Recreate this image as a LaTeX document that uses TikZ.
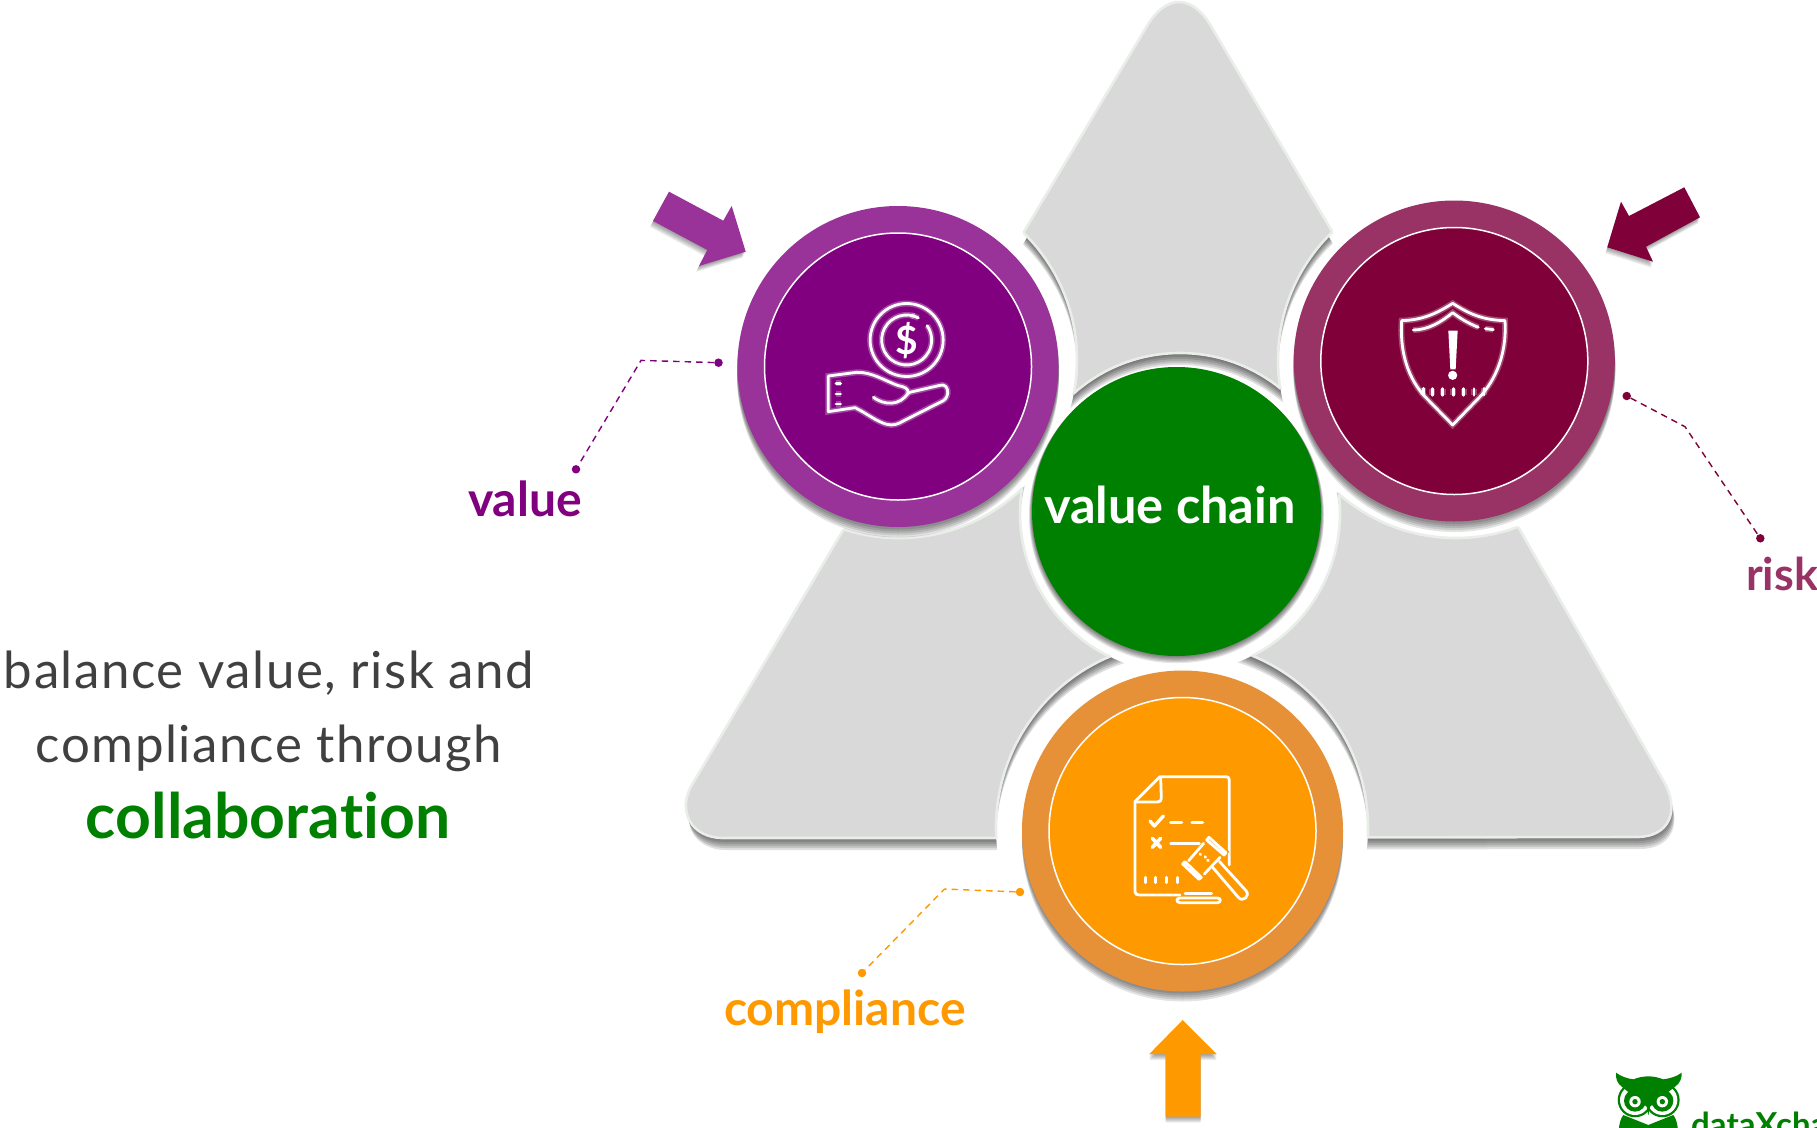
\documentclass[tikz,border=0pt]{standalone}
\usepackage{fontspec}
\setmainfont[Ligatures=NoCommon,LetterSpace=3]{Lato}
\newfontfamily\semib[Ligatures=NoCommon]{Lato}
\definecolor{trigray}{HTML}{D9D9D9}
\definecolor{triline}{HTML}{E9EEE9}
\definecolor{valout}{HTML}{993399}
\definecolor{valin}{HTML}{800080}
\definecolor{riskout}{HTML}{993366}
\definecolor{riskin}{HTML}{800039}
\definecolor{compout}{HTML}{E69138}
\definecolor{compin}{HTML}{FF9900}
\definecolor{chain}{HTML}{008000}
\definecolor{bodytext}{HTML}{404040}
\newcommand\TRI{(1000,838) -- (723,838) .. controls (691.5,838) and (676.2,811) .. (692.4,784) -- (842,532) -- (1025,230) -- (1147,26) .. controls (1166,-6) and (1192,-6) .. (1211,26) -- (1330,228) -- (1520,530) -- (1663,780) .. controls (1681,811) and (1669,837) .. (1637,837) -- cycle}
\newcommand\RV{(899,360) circle[radius=178pt]}
\newcommand\RR{(1456,360) circle[radius=178pt]}
\newcommand\RC{(1182,828) circle[radius=186pt]}
\newcommand\RG{(1180,513) circle[radius=160pt]}
\newcommand\BIG{(-10,-60) rectangle (1830,1140)}
\newcommand\cutout[1]{\pgfseteorule\clip \BIG #1;\pgfsetnonzerorule}
% ring crescent: #1 = ring centre, #2 radius, #3 = clip-out paths
\newcommand\crescent[3]{%
  \begin{scope}
    #3
    \clip[yshift=-11pt] \TRI;
    \foreach \dd in {2,4,6,8,10,12}{%
      \begin{scope}
        \pgfseteorule\clip \BIG ([yshift=-\dd pt]#1) circle[radius=#2];\pgfsetnonzerorule
        \fill[black,opacity=.125] (#1) circle[radius=#2];
      \end{scope}}
  \end{scope}}
\tikzset{
  discshadow/.style={fill=black,opacity=.11},
  outerdisc/.style={circle,minimum size=321pt,inner sep=0pt,outer sep=0pt},
  innerdisc/.style={circle,draw=white,line width=1.5pt,minimum size=267pt,inner sep=0pt,outer sep=0pt},
  leaderline/.style={dashed,dash pattern=on 6.5pt off 5pt,line width=1.4pt},
  leaderdot/.style={circle,inner sep=0pt,minimum size=8.5pt},
  iconline/.style={draw=white,line width=2.8pt,line cap=round,line join=round,preaction={draw=white,opacity=.28,line width=6pt}},
  cleanline/.style={draw=white,line width=2.8pt,line cap=round,line join=round},
  label/.style={anchor=base west,inner sep=0pt,outer sep=0pt,font=\fontsize{48}{48}\semib\bfseries},
  bodyline/.style={anchor=base,inner sep=0pt,outer sep=0pt,text=bodytext,font=\fontsize{51}{51}\selectfont}
}
\begin{document}
\begin{tikzpicture}[x=1pt,y=-1pt]
\useasboundingbox (0,0) rectangle (1817,1127);
\clip (0,0) rectangle (1817,1127);

% triangle shadow
\foreach \dd in {2,4,6,8,10,12}{\fill[black,opacity=.12,yshift=-\dd pt,xshift=.25*\dd pt] \TRI;}
% triangle
\fill[trigray] \TRI;
\draw[triline,line width=2.6pt,line join=round] \TRI;
% white rings
\fill[white] \RV; \fill[white] \RR; \fill[white] \RC; \fill[white] \RG;
% ring shadows
\crescent{899,360}{178pt}{\cutout{\RR}\cutout{\RC}\cutout{\RG}}
\crescent{1456,360}{178pt}{\cutout{\RV}\cutout{\RC}\cutout{\RG}}
\crescent{1182,828}{186pt}{\cutout{\RV}\cutout{\RR}\cutout{\RG}}
\crescent{1180,513}{160pt}{\cutout{\RV}\cutout{\RR}\cutout{\RC}}
% ring outlines
\begin{scope}\clip \TRI; \cutout{\RR}\cutout{\RC}\cutout{\RG}\draw[triline,line width=2.6pt] \RV;\end{scope}
\begin{scope}\clip \TRI; \cutout{\RV}\cutout{\RC}\cutout{\RG}\draw[triline,line width=2.6pt] \RR;\end{scope}
\begin{scope}\clip \TRI; \cutout{\RV}\cutout{\RR}\cutout{\RG}\draw[triline,line width=2.6pt] \RC;\end{scope}
\begin{scope}\clip \TRI; \cutout{\RV}\cutout{\RR}\cutout{\RC}\draw[triline,line width=2.6pt] \RG;\end{scope}

% disc shadows
\foreach \dd in {2,4,6,8,10}{
  \fill[discshadow,yshift=-\dd pt] (898,366.5) circle[radius=161pt];
  \fill[discshadow,yshift=-\dd pt] (1454.3,361) circle[radius=161pt];
  \fill[discshadow,yshift=-\dd pt] (1182.5,831) circle[radius=160.5pt];
}
\foreach \dd in {1,2,3,4,5,6}{\fill[black,opacity=.1,yshift=-.7*\dd pt] (1176.5,511.5) circle[radius={144.5pt+.5*\dd pt}];}

% discs
\node[outerdisc,fill=valout] (valueouter) at (898,366.5) {};
\node[innerdisc,fill=valin] (valueinner) at (898,366.5) {};
\node[outerdisc,fill=riskout] (riskouter) at (1454.3,361) {};
\node[innerdisc,fill=riskin] (riskinner) at (1454.3,361) {};
\node[outerdisc,fill=compout] (compouter) at (1182.5,831) {};
\node[innerdisc,fill=compin] (compinner) at (1182.5,831) {};
\node[circle,fill=chain,minimum size=289pt,inner sep=0pt,outer sep=0pt] (chaindisc) at (1176.5,511.5) {};
\node[anchor=base,inner sep=0pt,text=white,font=\fontsize{50.5}{50.5}\semib\bfseries] (chainlabel) at (1170,523) {value chain};

% hand and coin icon
\begin{scope}[shift={(780,240)},x=.3333pt,y=-.3333pt]
  \draw[iconline] (380,300) circle[radius=36.5pt];
  \draw[iconline] ([shift={(62:25pt)}]380,300) arc[start angle=62,end angle=395,radius=25pt];
  \draw[iconline] ([shift={(72:25pt)}]380,300) arc[start angle=72,end angle=80,radius=25pt];
  \node[inner sep=0pt,text=white,font=\fontsize{39}{39}\semib\bfseries] (dollar) at (380,303) {\$};
  \draw[iconline] (145,408) -- (145,515) -- (225,503) .. controls (260,520) and (290,545) .. (320,553) .. controls (340,558) and (355,552) .. (370,543) -- (490,482) .. controls (512,468) and (505,428) .. (480,436) -- (385,458) .. controls (385,445) and (372,440) .. (355,437) .. controls (320,425) and (275,395) .. (230,397) -- cycle;
  \draw[iconline] (280,472) .. controls (310,495) and (360,500) .. (385,458);
  \draw[iconline] (168,430) -- (182,430) (168,462) -- (182,462) (168,492) -- (182,492);
\end{scope}

% shield icon
\begin{scope}[shift={(1360,280)},x=.3333pt,y=-.3333pt]
  \draw[iconline] (278,70) .. controls (230,100) and (190,120) .. (125,122) .. controls (120,200) and (135,280) .. (190,345) -- (278,435) -- (365,345) .. controls (420,280) and (440,200) .. (435,122) .. controls (365,120) and (325,100) .. (278,70) -- cycle;
  \draw[iconline] (160,150) .. controls (205,150) and (245,125) .. (278,98) .. controls (300,115) and (325,130) .. (355,142);
  \draw[iconline] (376,146) -- (400,149);
  \fill[white] (265,152) -- (293,152) -- (287,268) -- (271,268) -- cycle;
  \fill[white] (278,286) circle[radius=4.6pt];
  \draw[iconline] (190,325) -- (190,345) (217,326) -- (217,346) (248,326) -- (248,346) (280,326) -- (280,346) (311,326) -- (311,346) (342,326) -- (342,346) (372,325) -- (372,345);
\end{scope}

% document and gavel icon
\begin{scope}[shift={(1100,750)},x=.3333pt,y=-.3333pt]
  \draw[cleanline] (388,345) -- (388,90) .. controls (388,84) and (385,80) .. (378,80) -- (180,80) -- (105,155) -- (105,425) .. controls (105,432) and (110,435) .. (118,435) -- (240,435);
  \draw[cleanline] (182,82) -- (184,145) .. controls (184,152) and (180,156) .. (172,156) -- (108,156);
  \draw[cleanline,line width=3.4pt] (150,213) -- (163,228) -- (190,198);
  \draw[cleanline,line width=3.2pt] (212,218) -- (245,218) (276,218) -- (308,218);
  \draw[cleanline,line width=3.6pt] (157,265) -- (182,292) (182,265) -- (157,292);
  \draw[cleanline] (212,281) -- (298,281);
  \draw[cleanline,line width=3pt] (135,382) -- (135,398) (167,382) -- (167,398) (198,382) -- (198,398) (231,382) -- (231,398);
  % gavel
  \fill[compin] (330,255) -- (388,305) -- (305,395) -- (245,340) -- cycle;
  \draw[cleanline,fill=compin] (327,262) -- (378,308) -- (372,315) -- (320,270) -- cycle;
  \draw[cleanline,fill=compin] (255,335) -- (304,382) -- (297,388) -- (248,342) -- cycle;
  \draw[cleanline] (311,280) -- (266,332) (360,322) -- (313,372);
  \draw[cleanline] (338,352) -- (415,442) .. controls (428,458) and (452,438) .. (438,422) -- (358,334);
  \draw[cleanline] (300,312) -- (302,314) (315,320) -- (317,322) (323,330) -- (325,332);
  \draw[cleanline] (255,431) -- (335,431);
  \draw[cleanline] (240,444) -- (352,444) .. controls (364,444) and (364,458) .. (352,458) -- (240,458) .. controls (228,458) and (228,444) .. (240,444) -- cycle;
\end{scope}

% arrows
\newcommand\ARW{(669,191.7) -- (723.3,220.7) -- (731.7,206) -- (745.7,251.7) -- (699,266) -- (707.3,250) -- (653,221) -- cycle}
\foreach \dd in {1,2,3,4,5,6}{\fill[black,opacity=.07,xshift=-.5*\dd pt,yshift=-\dd pt] \ARW;}
\fill[valout] \ARW;
\renewcommand\ARW{(1684.3,187.3) -- (1629,216) -- (1621,201.7) -- (1607.3,247.3) -- (1653,261.7) -- (1646,246.7) -- (1700,217.3) -- cycle}
\foreach \dd in {1,2,3,4,5,6}{\fill[black,opacity=.07,xshift=-.3*\dd pt,yshift=-\dd pt] \ARW;}
\fill[riskin] \ARW;
\renewcommand\ARW{(1182.7,1020) -- (1149.3,1054) -- (1165.7,1054) -- (1165.7,1116.7) -- (1200.7,1116.7) -- (1200.7,1054) -- (1216.7,1054) -- cycle}
\foreach \dd in {1,2,3,4,5,6}{\fill[black,opacity=.07,yshift=-\dd pt] \ARW;}
\fill[compin] \ARW;

% leaders
\node[leaderdot,fill=valin] (vdota) at (718.5,362.7) {};
\coordinate (vbend) at (641,360.4);
\node[leaderdot,fill=valin] (vdotb) at (576,469.3) {};
\draw[leaderline,valin] (vdota) -- (vbend) -- (vdotb);
\node[leaderdot,fill=riskin] (rdota) at (1626.7,396) {};
\coordinate (rbend) at (1685,426.7);
\node[leaderdot,fill=riskin] (rdotb) at (1760.3,538.3) {};
\draw[leaderline,riskin] (rdota) -- (rbend) -- (rdotb);
\node[leaderdot,fill=compin] (cdota) at (1020,892) {};
\coordinate (cbend) at (944.5,889);
\node[leaderdot,fill=compin] (cdotb) at (862,973) {};
\draw[leaderline,compin] (cdota) -- (cbend) -- (cdotb);

% labels
\node[label,text=valin] (valuelabel) at (468,516) {value};
\node[label,text=riskout,font=\fontsize{45}{45}\semib\bfseries] (risklabel) at (1746,590.7) {risk};
\node[label,text=compin] (complabel) at (724,1025) {compliance};
\node[bodyline] (bodya) at (269,688) {balance value, risk and};
\node[bodyline] (bodyb) at (269,762) {compliance through};
\node[anchor=base,inner sep=0pt,text=chain,font=\fontsize{62.5}{62.5}\semib\bfseries] (bodyc) at (268,838) {collaboration};

% logo
\begin{scope}[shift={(1580,1050)},x=.3333pt,y=-.3333pt]
  \fill[chain] (165,150) circle[radius=17.3pt];
  \fill[chain] (247,150) circle[radius=17.3pt];
  \fill[white] (165,150) circle[radius=15pt];
  \fill[white] (247,150) circle[radius=15pt];
  \fill[chain] (165,152) circle[radius=11pt];
  \fill[chain] (247,152) circle[radius=11pt];
  \fill[chain] (108,68) .. controls (125,80) and (140,85) .. (160,88) .. controls (190,76) and (220,76) .. (250,88) .. controls (270,85) and (290,80) .. (305,68) .. controls (306,85) and (300,100) .. (285,110) -- (210,170) -- (205,196) -- (200,170) -- (125,110) .. controls (112,100) and (106,85) .. (108,68) -- cycle;
  \fill[white] (165,155) circle[radius=5.7pt];
  \fill[white] (247,155) circle[radius=5.7pt];
  \fill[chain] (165,155) circle[radius=2.7pt];
  \fill[chain] (247,155) circle[radius=2.7pt];
  \fill[chain] (116,240) .. controls (118,220) and (122,205) .. (130,195) -- (205,225) -- (280,195) .. controls (288,205) and (292,220) .. (294,240) -- cycle;
\end{scope}
\node[anchor=base west,inner sep=0pt,text=chain,font=\fontsize{33}{33}\semib\bfseries] (logotext) at (1691,1136) {dataXchange};
\end{tikzpicture}
\end{document}
